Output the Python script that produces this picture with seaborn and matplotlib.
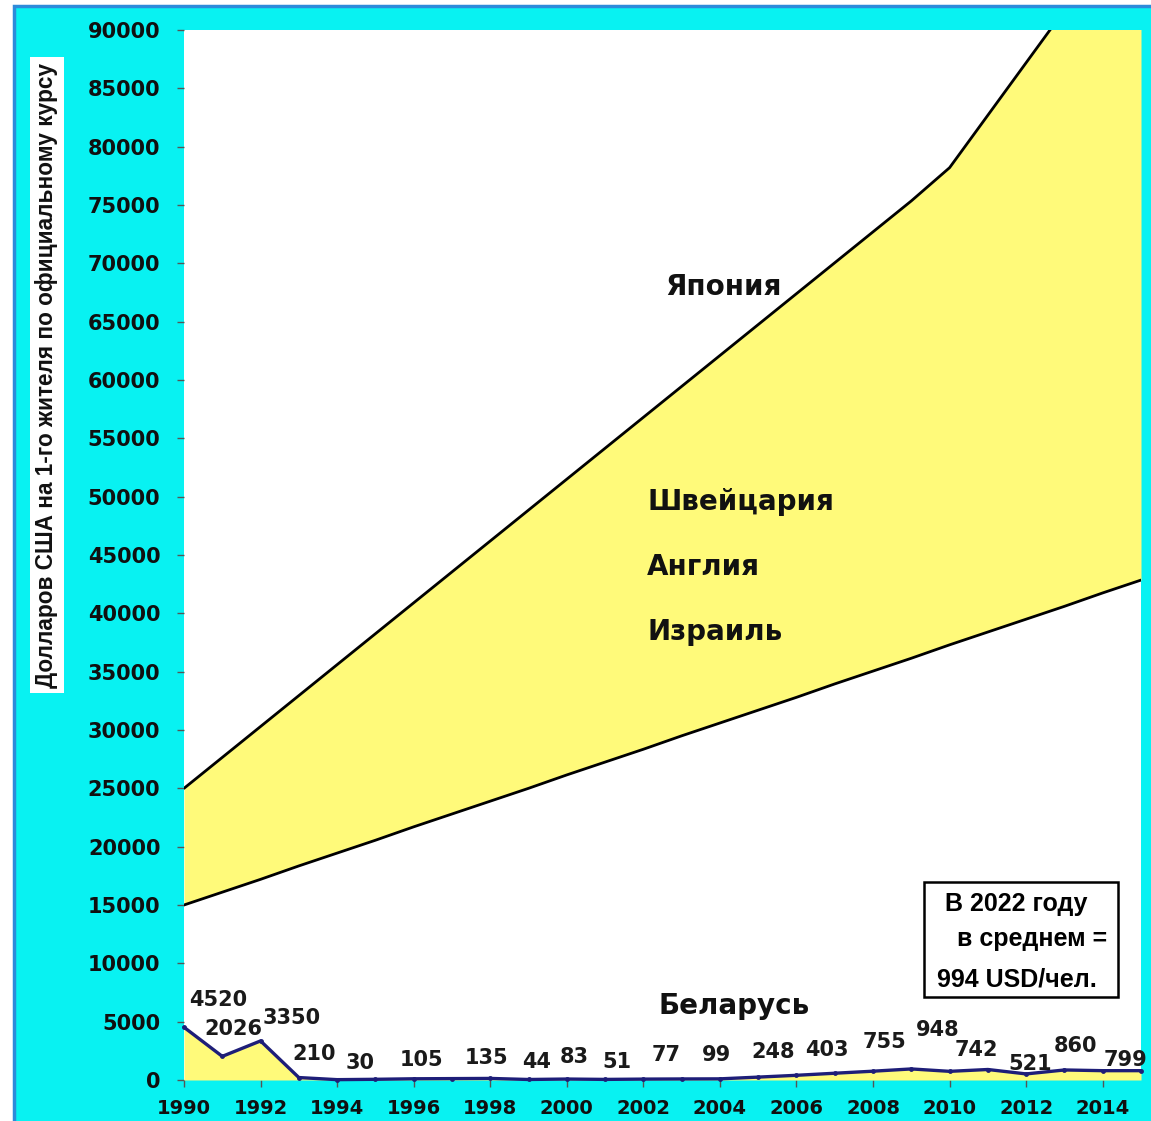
import numpy as np
import pandas as pd
import matplotlib
matplotlib.use("Agg")
import matplotlib.pyplot as plt
import seaborn as sns
from matplotlib.patches import Rectangle

# --- data ---
years = list(range(1990, 2016))

japan = [25000, 27650, 30300, 32950, 35600, 38250, 40900, 43550, 46200, 48850,
         51500, 54150, 56800, 59450, 62100, 64750, 67400, 70050, 72700, 75350,
         78200, 82700, 87200, 91700, 96200, 100700]

israel = [15000, 16100, 17200, 18350, 19450, 20550, 21700, 22800, 23900, 25000,
          26150, 27250, 28350, 29500, 30600, 31700, 32800, 33950, 35050, 36150,
          37300, 38400, 39500, 40600, 41750, 42850]

belarus = [4520, 2026, 3350, 210, 30, 60, 105, 120, 135, 44,
           83, 51, 77, 90, 99, 248, 403, 580, 755, 948,
           742, 900, 521, 860, 799, 800]

# values printed next to the Belarus line
value_labels = ["4520", "2026", "3350", "210", "30", "105", "135", "44", "83", "51",
                "77", "99", "248", "403", "755", "948", "742", "521", "860", "799"]
# where those labels sit (year, value)
label_x = [1990.9, 1991.3, 1992.8, 1993.4, 1994.6, 1996.2, 1997.9, 1999.2, 2000.2, 2001.3,
           2002.6, 2003.9, 2005.4, 2006.8, 2008.3, 2009.7, 2010.7, 2012.1, 2013.3, 2014.6]
label_y = [6850, 4350, 5300, 2230, 1460, 1710, 1880, 1540, 1970, 1540,
           2140, 2140, 2400, 2570, 3250, 4300, 2570, 1370, 2930, 1710]

country_names = ["Япония", "Швейцария", "Англия", "Израиль", "Беларусь"]

yticks = list(range(0, 90001, 5000))
xticks = list(range(1990, 2015, 2))

ylabel = "Долларов США на 1-го жителя по официальному курсу"
note_lines = ["В 2022 году", " в среднем =", "994 USD/чел."]

df = pd.DataFrame({"year": years, "japan": japan, "israel": israel, "belarus": belarus})

sns.set_theme(style="white")
plt.rcParams['font.family'] = ['DejaVu Sans']

CYAN = "#08F2F2"
YELLOW = "#FFFA7A"
NAVY = "#1E1E78"

fig = plt.figure(figsize=(11.51, 11.21), dpi=100)
fig.patch.set_facecolor("white")
bg = Rectangle((14 / 1151, -0.01), 1.0, (1121 - 6) / 1121 + 0.01,
               transform=fig.transFigure, facecolor=CYAN,
               edgecolor="#2D8BDA", linewidth=2.5, zorder=-10)
fig.add_artist(bg)

ax = fig.add_axes([184 / 1151, 41 / 1121, 957 / 1151, 1050 / 1121])
ax.set_zorder(5)
ax.set_facecolor("white")

# yellow band between the two reference countries, and under Belarus
ax.fill_between(df["year"], df["israel"], df["japan"], color=YELLOW, linewidth=0, zorder=1)
ax.fill_between(df["year"], 0, df["belarus"], color=YELLOW, linewidth=0, zorder=1)

sns.lineplot(data=df, x="year", y="japan", color="black", linewidth=2.0, ax=ax, zorder=3)
sns.lineplot(data=df, x="year", y="israel", color="black", linewidth=2.0, ax=ax, zorder=3)
sns.lineplot(data=df, x="year", y="belarus", color=NAVY, linewidth=2.4, marker="o",
             markersize=3.5, markeredgewidth=0, ax=ax, zorder=4, clip_on=False)

ax.set_xlim(1990, 2015)
ax.set_ylim(0, 90000)
ax.set_yticks(yticks)
ax.set_yticklabels([str(v) for v in yticks], fontsize=15, fontweight="bold", color="#101010")
ax.set_xticks(xticks)
ax.set_xticklabels([str(v) for v in xticks], fontsize=14, fontweight="bold", color="#101010")
ax.tick_params(axis="y", length=5, width=1, color="#555555", direction="out", pad=12, left=True)
ax.tick_params(axis="x", length=5, width=1, color="#555555", direction="out", pad=9, bottom=True)
for s in ax.spines.values():
    s.set_visible(False)
ax.set_xlabel("")
ax.set_ylabel("")

fig.text(47 / 1151, 1 - 375 / 1121, ylabel, rotation=90, ha="center", va="center",
         fontsize=16.3, fontweight="bold", family="Liberation Sans", color="#111111",
         bbox=dict(facecolor="white", edgecolor="none", pad=4))

# country names
ax.text(2004.1, 68000, country_names[0], ha="center", va="center", fontsize=20,
        fontweight="bold", color="#111111", zorder=5)
ax.text(2002.1, 49500, country_names[1], ha="left", va="center", fontsize=20,
        fontweight="bold", color="#111111", zorder=5)
ax.text(2002.1, 44000, country_names[2], ha="left", va="center", fontsize=20,
        fontweight="bold", color="#111111", zorder=5)
ax.text(2002.1, 38400, country_names[3], ha="left", va="center", fontsize=20,
        fontweight="bold", color="#111111", zorder=5)
ax.text(2002.4, 6300, country_names[4], ha="left", va="center", fontsize=20,
        fontweight="bold", color="#111111", zorder=5)

# Belarus values
for txt, lx, ly in zip(value_labels, label_x, label_y):
    ax.text(lx, ly, txt, ha="center", va="center", fontsize=15, fontweight="bold",
            color="#1a1a1a", zorder=5, clip_on=False)

# note box
ax.add_patch(Rectangle((0.773, 0.079), 0.203, 0.110, transform=ax.transAxes,
                       facecolor="white", edgecolor="black", linewidth=1.8, zorder=6))
note_x = [0.795, 0.800, 0.787]
note_y = [0.168, 0.134, 0.096]
for line, nx, ny in zip(note_lines, note_x, note_y):
    ax.text(nx, ny, line, transform=ax.transAxes, ha="left", va="center", fontsize=18,
            fontweight="bold", family="Liberation Sans", color="black", zorder=7)

fig.savefig("out.png", dpi=100)
